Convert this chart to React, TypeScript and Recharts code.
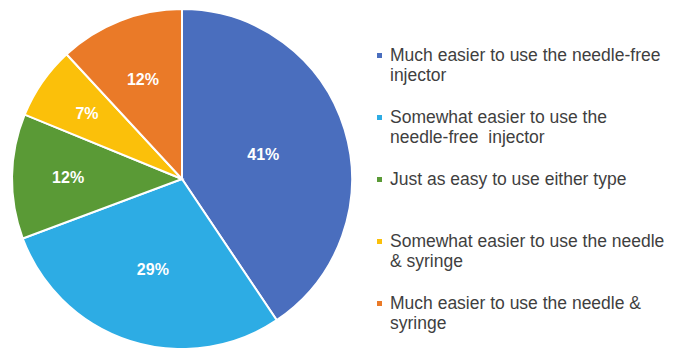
import { PieChart, Pie, Cell, Legend } from 'recharts'

const categories = [
  'Much easier to use the needle-free\ninjector',
  'Somewhat easier to use the\nneedle-free  injector',
  'Just as easy to use either type',
  'Somewhat easier to use the needle\n& syringe',
  'Much easier to use the needle &\nsyringe',
]
const shares = [41, 29, 12, 7, 12]
const colors = ['#4A6EBE', '#2DACE4', '#5A9A36', '#FBC00A', '#EA7A28']

// Excel "best fit" puts the labels at slightly different depths
const labelDepth = [0.5, 0.56, 0.67, 0.68, 0.63]

const data = categories.map((name, i) => ({ name, value: shares[i] }))

const RAD = Math.PI / 180

function renderLabel(props: any) {
  const { cx, cy, midAngle, outerRadius, index, value } = props
  const r = outerRadius * labelDepth[index]
  const x = cx + r * Math.cos(-midAngle * RAD)
  const y = cy + r * Math.sin(-midAngle * RAD)
  return (
    <text
      x={x}
      y={y}
      fill="#fff"
      textAnchor="middle"
      dominantBaseline="central"
      fontFamily="'Liberation Sans', Arial, sans-serif"
      fontWeight="bold"
      fontSize={16}
    >
      {value}%
    </text>
  )
}

// legend keeps the data order (recharts would sort it by name)
function LegendList() {
  return (
    <div style={{ fontFamily: "'Liberation Sans', Arial, sans-serif", fontSize: 17.5, color: '#3f3f3f', textAlign: 'left' }}>
      {categories.map((label, i) => (
        <div key={i} style={{ position: 'relative', height: 62, paddingLeft: 18, lineHeight: '20px', whiteSpace: 'pre' }}>
          <span
            style={{
              position: 'absolute', left: 5, top: 8, width: 5, height: 5,
              backgroundColor: colors[i],
            }}
          />
          {label}
        </div>
      ))}
    </div>
  )
}

export default function App() {
  return (
    <div style={{ position: 'absolute', left: 0, top: 0, width: 679, height: 348, background: '#fff' }}>
      <PieChart width={679} height={348} margin={{ top: 0, right: 0, bottom: 0, left: 0 }}>
        <Pie
          data={data}
          dataKey="value"
          nameKey="name"
          cx={182}
          cy={179}
          outerRadius={170}
          startAngle={90}
          endAngle={-270}
          stroke="#fff"
          strokeWidth={2}
          label={renderLabel}
          labelLine={false}
          isAnimationActive={false}
        >
          {data.map((_, i) => (
            <Cell key={i} fill={colors[i]} />
          ))}
        </Pie>
        <Legend
          layout="vertical"
          verticalAlign="top"
          align="right"
          content={<LegendList />}
          wrapperStyle={{ left: 372, top: 45, width: 300 }}
        />
      </PieChart>
    </div>
  )
}
